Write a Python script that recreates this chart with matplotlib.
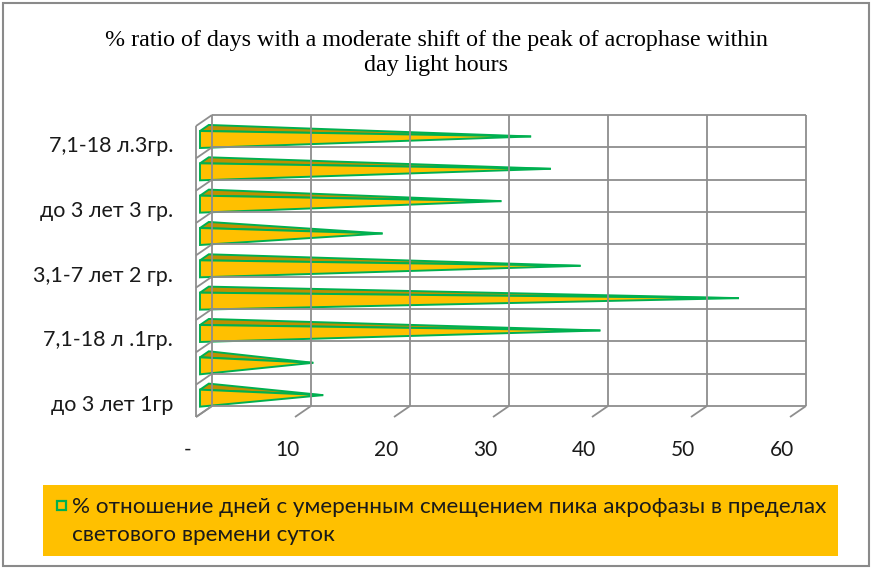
import matplotlib.pyplot as plt
from matplotlib.patches import Polygon, Rectangle
from matplotlib.transforms import offset_copy

# Age groups, bottom to top (only every other one is labelled on the axis)
categories = ['до 3 лет 1гр', '', '7,1-18 л .1гр.', '', '3,1-7 лет 2 гр.',
              '', 'до 3 лет 3 гр.', '', '7,1-18 л.3гр.']
values = [12, 11, 40, 54, 38, 18, 30, 35, 33]
x_ticks = [0, 10, 20, 30, 40, 50, 60]
x_tick_labels = ['-', '10', '20', '30', '40', '50', '60']

title = '% ratio of days with a moderate shift of the peak of acrophase within\nday light hours'
series_name = ('% отношение дней с умеренным смещением пика акрофазы в пределах\n'
               'светового времени суток')

W, H = 872, 569
YELLOW = '#FFC000'
TOP = '#BF9000'
GREEN = '#00B050'
GRID = '#8E8E8E'
SANS = ['Lato', 'DejaVu Sans']

fig = plt.figure(figsize=(W / 100, H / 100), dpi=100)

# back wall of the pseudo-3D box
ax = fig.add_axes([212 / W, (H - 406) / H, 594 / W, 291 / H])
ax.set_xlim(0, 60)
ax.set_ylim(0, 9)
ax.axis('off')

# depth offset of the front plane, in data units
dx = -16 / 9.9
dy = -11 / (291 / 9)


def P(x, h, d):
    return (x + dx * d, h + dy * d)


line_kw = dict(color=GRID, lw=1.3, clip_on=False, solid_capstyle='butt')

# back wall grid
for x in x_ticks:
    ax.plot([x, x], [0, 9], **line_kw)
for y in range(10):
    ax.plot([0, 60], [y, y], **line_kw)
# left wall
ax.plot([dx, dx], [dy, 9 + dy], **line_kw)
for y in range(10):
    ax.plot([0, dx], [y, y + dy], **line_kw)
# floor ticks
for x in x_ticks:
    ax.plot([x, x + dx], [0, dy], **line_kw)

# horizontal pyramids
d0, d1 = 0.2, 0.75
for i in reversed(range(len(values))):
    v = values[i]
    h0, h1 = i + 0.235, i + 0.76
    dm = (d0 + d1) / 2
    apex = P(v, (h0 + h1) / 2, dm)
    top = Polygon([P(0, h1, d0), P(0, h1, d1), apex], closed=True,
                  facecolor=TOP, edgecolor=GREEN, lw=1.4, joinstyle='miter',
                  clip_on=False)
    front = Polygon([P(0, h1, d1), P(0, h0, d1), apex], closed=True,
                    facecolor=YELLOW, edgecolor=GREEN, lw=1.4,
                    joinstyle='miter', clip_on=False)
    ax.add_patch(top)
    ax.add_patch(front)

# category labels on the front-left edge
lab_tr = offset_copy(ax.transData, fig=fig, x=-23, y=-4, units='dots')
for i, lab in enumerate(categories):
    if lab:
        ax.text(dx, i + 0.5 + dy, lab, transform=lab_tr, ha='right',
                va='center', fontsize=15.5, family=SANS, color='#1A1A1A')

# value axis labels under the floor
tick_tr = offset_copy(ax.transData, fig=fig, x=-8, y=-33, units='dots')
for x, lab in zip(x_ticks, x_tick_labels):
    ax.text(x + dx, dy, lab, transform=tick_tr, ha='center', va='center',
            fontsize=15, family=SANS, color='#1A1A1A')

fig.text(0.5, 1 - 53 / H, title, ha='center', va='center',
         fontsize=17.3, family='Liberation Serif', linespacing=1.3)

# legend strip
fig.add_artist(Rectangle((43 / W, (H - 556) / H), 795 / W, 71 / H,
                         transform=fig.transFigure, facecolor=YELLOW,
                         edgecolor='none'))
fig.add_artist(Rectangle((57 / W, (H - 510) / H), 9 / W, 9 / H,
                         transform=fig.transFigure, facecolor=YELLOW,
                         edgecolor=GREEN, lw=1.6))
fig.text(72 / W, 1 - 521 / H, series_name, ha='left', va='center',
         fontsize=16.2, family=SANS, linespacing=1.55, color='#1A1A1A')

# outer chart border
fig.add_artist(Rectangle((3 / W, 3 / H), 866 / W, 563 / H,
                         transform=fig.transFigure, fill=False,
                         edgecolor='#8A8A8A', lw=1.5))

fig.savefig('out.png', dpi=100)
